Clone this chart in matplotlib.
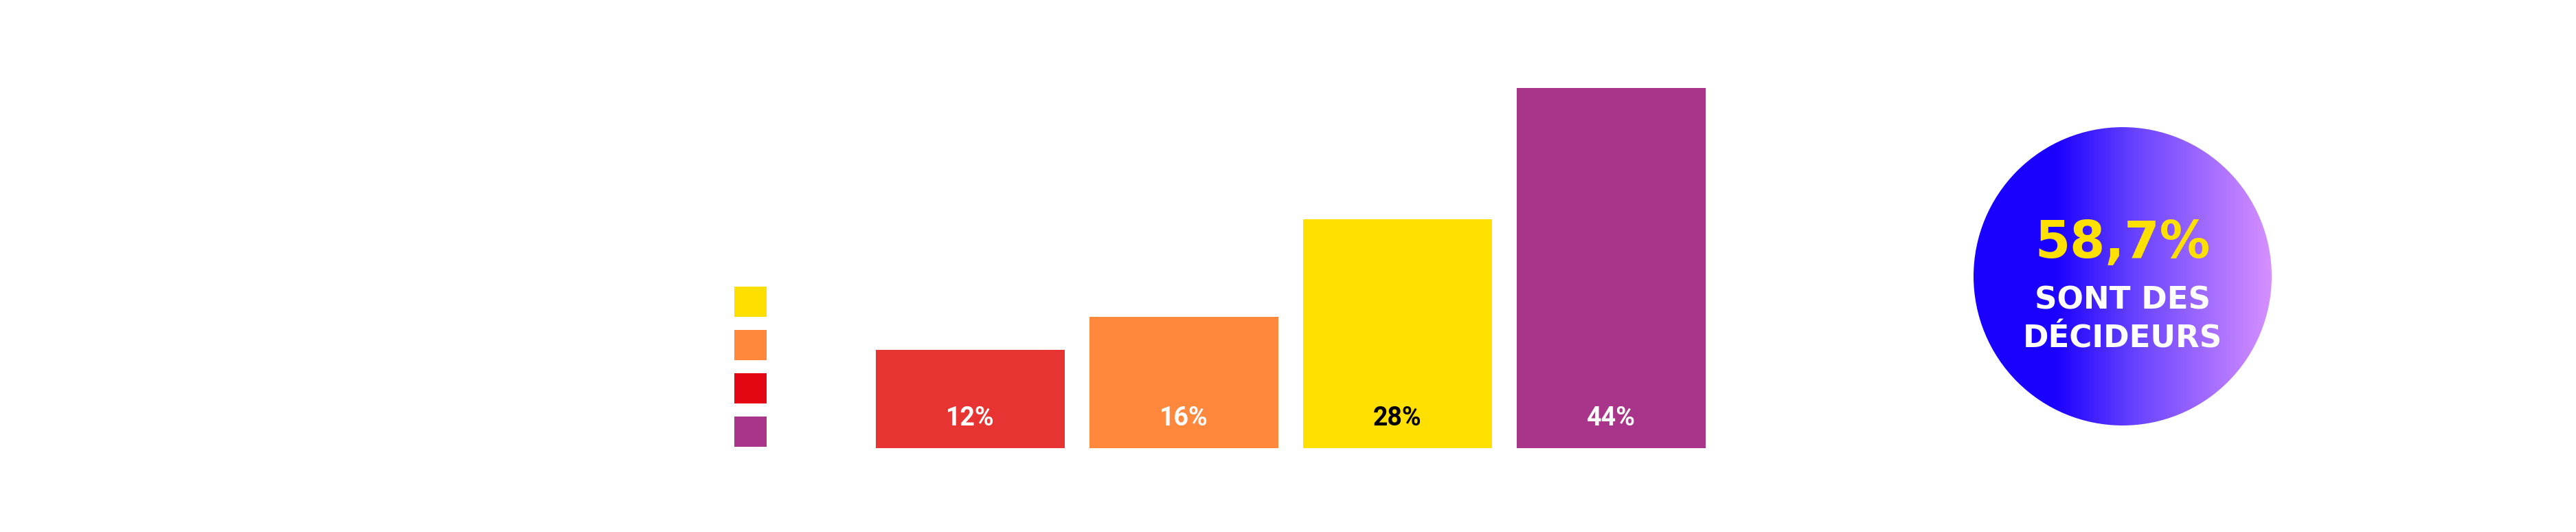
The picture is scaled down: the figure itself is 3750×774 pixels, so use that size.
import numpy as np
import matplotlib
matplotlib.use("Agg")
import matplotlib.pyplot as plt
from matplotlib.patches import Patch, Circle
from matplotlib.colors import LinearSegmentedColormap

# ---- data ----
bar_values = [12, 16, 28, 44]
bar_labels = ["12%", "16%", "28%", "44%"]
bar_colors = ["#e73433", "#ff883c", "#ffe000", "#a8358a"]
label_colors = ["white", "white", "black", "white"]

legend_colors = ["#ffdf00", "#ff883c", "#e30613", "#a8358a"]
legend_labels = ["", "", "", ""]

badge_value = "58,7%"
badge_lines = ["SONT DES", "DÉCIDEURS"]

W, H = 3750, 774
fig = plt.figure(figsize=(W / 100, H / 100), dpi=100)
fig.patch.set_facecolor("white")

# ---- bar chart ----
ax = fig.add_axes([1257 / W, 122 / H, 1244 / W, 595.5 / H])
x = np.arange(len(bar_values))
ax.bar(x, bar_values, width=0.884, color=bar_colors)
ax.set_xlim(-0.5, 3.5)
ax.set_ylim(0, 50)
ax.axis("off")
for xi, lab, c in zip(x, bar_labels, label_colors):
    ax.text(xi, 2.73, lab, ha="center", va="baseline", color=c,
            fontsize=27, fontweight="bold",
            family=["Liberation Sans Narrow", "Roboto", "DejaVu Sans"])

# ---- legend squares (no labels) ----
fs_px = 14.17
handles = [Patch(facecolor=c, edgecolor="none") for c in legend_colors]
fig.legend(handles, legend_labels, loc="upper left",
           bbox_to_anchor=(1069 / W, 1 - 417 / H),
           fontsize=fs_px * 0.72, frameon=False, borderpad=0, borderaxespad=0,
           handlelength=47 / fs_px, handleheight=4.4, handletextpad=0,
           labelspacing=19 / fs_px)

# ---- gradient badge ----
r = 217
cx, cy = 3090, H - 402
bx = fig.add_axes([(cx - r) / W, (cy - r) / H, 2 * r / W, 2 * r / H])
bx.set_xlim(-1, 1)
bx.set_ylim(-1, 1)
bx.axis("off")
cmap = LinearSegmentedColormap.from_list(
    "badge", [(0.0, "#1a00ff"), (0.27, "#1a00ff"), (0.55, "#6a44ff"), (1.0, "#d690ff")])
grad = np.tile(np.linspace(0, 1, 512), (8, 1))
img = bx.imshow(grad, extent=(-1, 1, -1, 1), cmap=cmap, aspect="auto",
                interpolation="bilinear")
img.set_clip_path(Circle((0, 0), 1, transform=bx.transData))

bx.text(0, 0.124, badge_value, ha="center", va="baseline", color="#ffe000",
        fontsize=53, fontweight="bold", family="DejaVu Sans")
bx.text(0, -0.221, badge_lines[0], ha="center", va="baseline", color="white",
        fontsize=32.5, fontweight="bold", family="DejaVu Sans")
bx.text(0, -0.475, badge_lines[1], ha="center", va="baseline", color="white",
        fontsize=32.5, fontweight="bold", family="DejaVu Sans")

fig.savefig("out.png", dpi=100, facecolor="white")
